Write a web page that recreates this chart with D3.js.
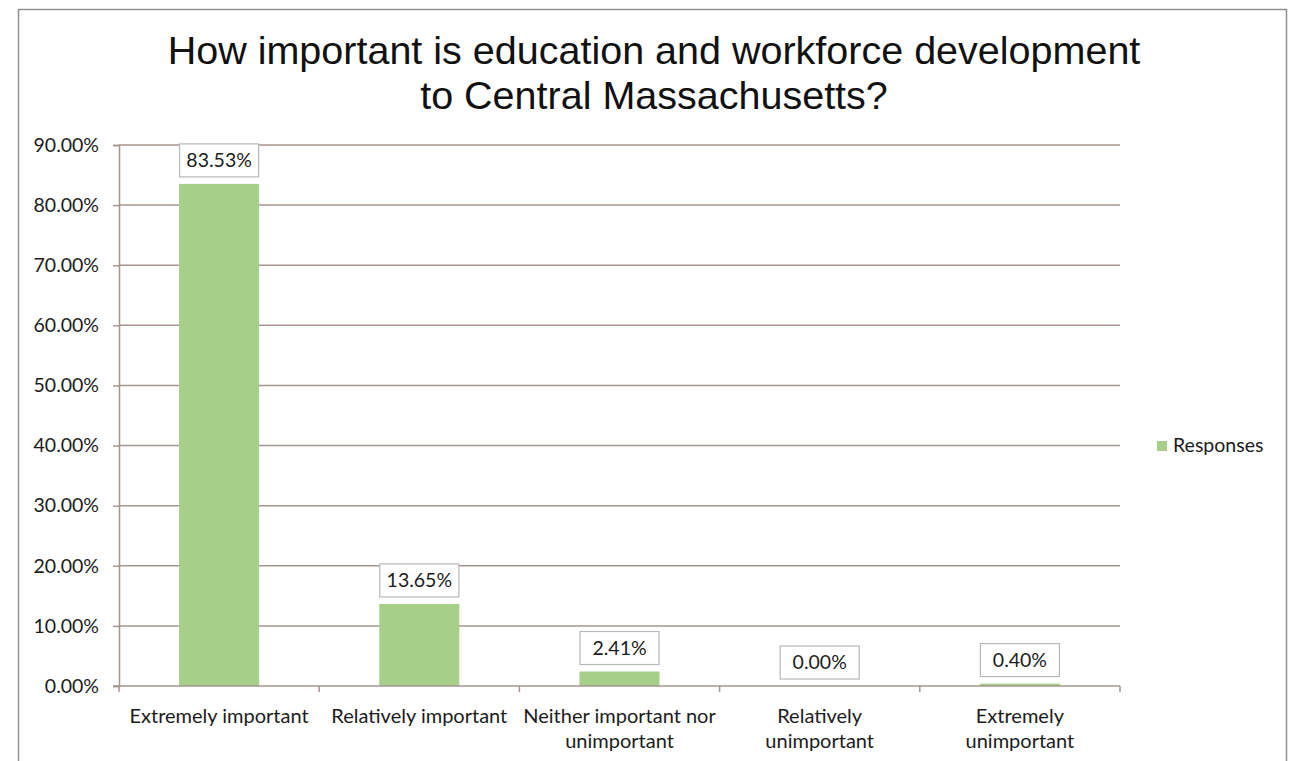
<!DOCTYPE html>
<html>
<head>
<meta charset="utf-8">
<script src="https://cdn.jsdelivr.net/npm/d3@7"></script>
<style>
  html, body { margin: 0; padding: 0; background: #fff; }
  svg { display: block; }
</style>
</head>
<body>
<svg id="chart" width="1291" height="761"></svg>
<script>
// Survey responses: importance of education and workforce development
const categories = [
  ["Extremely important"],
  ["Relatively important"],
  ["Neither important nor", "unimportant"],
  ["Relatively", "unimportant"],
  ["Extremely", "unimportant"]
];
const responses = [83.53, 13.65, 2.41, 0.00, 0.40];
const yTicks = [0, 10, 20, 30, 40, 50, 60, 70, 80, 90];
const titleLines = ["How important is education and workforce development", "to Central Massachusetts?"];
const seriesName = "Responses";

const svg = d3.select("#chart");
const labelFont = "Lato, 'Open Sans', sans-serif";
const labelSize = 19.5;
const textColor = "#1c1c1c";

// chart frame
svg.append("rect")
  .attr("x", 18.5).attr("y", 9.5)
  .attr("width", 1268).attr("height", 770)
  .attr("fill", "#fff").attr("stroke", "#8f8f8f").attr("stroke-width", 1.5);

// title
svg.append("text")
  .attr("text-anchor", "middle")
  .attr("font-family", "'Liberation Sans', Arial, sans-serif")
  .attr("font-size", 39.5)
  .attr("fill", "#111")
  .selectAll("tspan").data(titleLines).join("tspan")
  .attr("x", 654)
  .attr("y", (d, i) => 64 + i * 45)
  .text(d => d);

const plot = { left: 119, right: 1120, top: 145, bottom: 686 };

const x = d3.scaleBand()
  .domain(d3.range(categories.length))
  .range([plot.left, plot.right])
  .paddingInner(0.6).paddingOuter(0.3);

const y = d3.scaleLinear().domain([0, 90]).range([plot.bottom, plot.top]);

const gridColor = "#a8948f";

// horizontal gridlines
svg.append("g")
  .selectAll("line").data(yTicks.filter(t => t > 0)).join("line")
  .attr("x1", plot.left).attr("x2", plot.right)
  .attr("y1", d => y(d)).attr("y2", d => y(d))
  .attr("stroke", gridColor).attr("stroke-width", 1.5);

// y axis
const yAxis = svg.append("g")
  .attr("transform", `translate(${plot.left},0)`)
  .call(d3.axisLeft(y).tickValues(yTicks).tickSize(6).tickPadding(14)
    .tickFormat(d => d.toFixed(2) + "%"));
yAxis.select(".domain").attr("stroke", gridColor).attr("stroke-width", 1.5);
yAxis.selectAll(".tick line").attr("stroke", gridColor).attr("stroke-width", 1.5);
yAxis.selectAll("text")
  .attr("font-family", labelFont).attr("font-size", labelSize).attr("fill", textColor);

// bars
svg.append("g")
  .selectAll("rect").data(responses).join("rect")
  .attr("x", (d, i) => x(i))
  .attr("y", d => y(d))
  .attr("width", x.bandwidth())
  .attr("height", d => y(0) - y(d))
  .attr("fill", "#a6d08a");

// x axis with ticks at category boundaries
const step = (plot.right - plot.left) / categories.length;
const xb = svg.append("g");
xb.append("line")
  .attr("x1", plot.left - 6).attr("x2", plot.right)
  .attr("y1", plot.bottom).attr("y2", plot.bottom)
  .attr("stroke", gridColor).attr("stroke-width", 1.5);
xb.selectAll("line.tk").data(d3.range(categories.length + 1)).join("line")
  .attr("class", "tk")
  .attr("x1", i => plot.left + i * step).attr("x2", i => plot.left + i * step)
  .attr("y1", plot.bottom).attr("y2", plot.bottom + 6)
  .attr("stroke", gridColor).attr("stroke-width", 1.5);

// category labels
svg.append("g").selectAll("text").data(categories).join("text")
  .attr("text-anchor", "middle")
  .attr("font-family", labelFont).attr("font-size", 20).attr("fill", textColor)
  .each(function (lines, i) {
    d3.select(this).selectAll("tspan").data(lines).join("tspan")
      .attr("x", x(i) + x.bandwidth() / 2)
      .attr("y", (d, j) => 723 + j * 25)
      .text(d => d);
  });

// data labels in boxes
const lbl = svg.append("g").selectAll("g").data(responses).join("g")
  .attr("transform", (d, i) => `translate(${x(i) + x.bandwidth() / 2},${y(d) - 7})`);
lbl.append("rect")
  .attr("x", -x.bandwidth() / 2 + 0.5).attr("y", -33)
  .attr("width", x.bandwidth() - 1).attr("height", 33)
  .attr("fill", "#fff").attr("stroke", "#b8b8b8").attr("stroke-width", 1.2);
lbl.append("text")
  .attr("text-anchor", "middle").attr("y", -10)
  .attr("font-family", labelFont).attr("font-size", labelSize).attr("fill", textColor)
  .text(d => d.toFixed(2) + "%");

// legend
const leg = svg.append("g").attr("transform", "translate(1157,441)");
leg.append("rect").attr("width", 10).attr("height", 10).attr("fill", "#a6d08a");
leg.append("text")
  .attr("x", 16).attr("y", 11)
  .attr("font-family", labelFont).attr("font-size", labelSize).attr("fill", textColor)
  .text(seriesName);
</script>
</body>
</html>
